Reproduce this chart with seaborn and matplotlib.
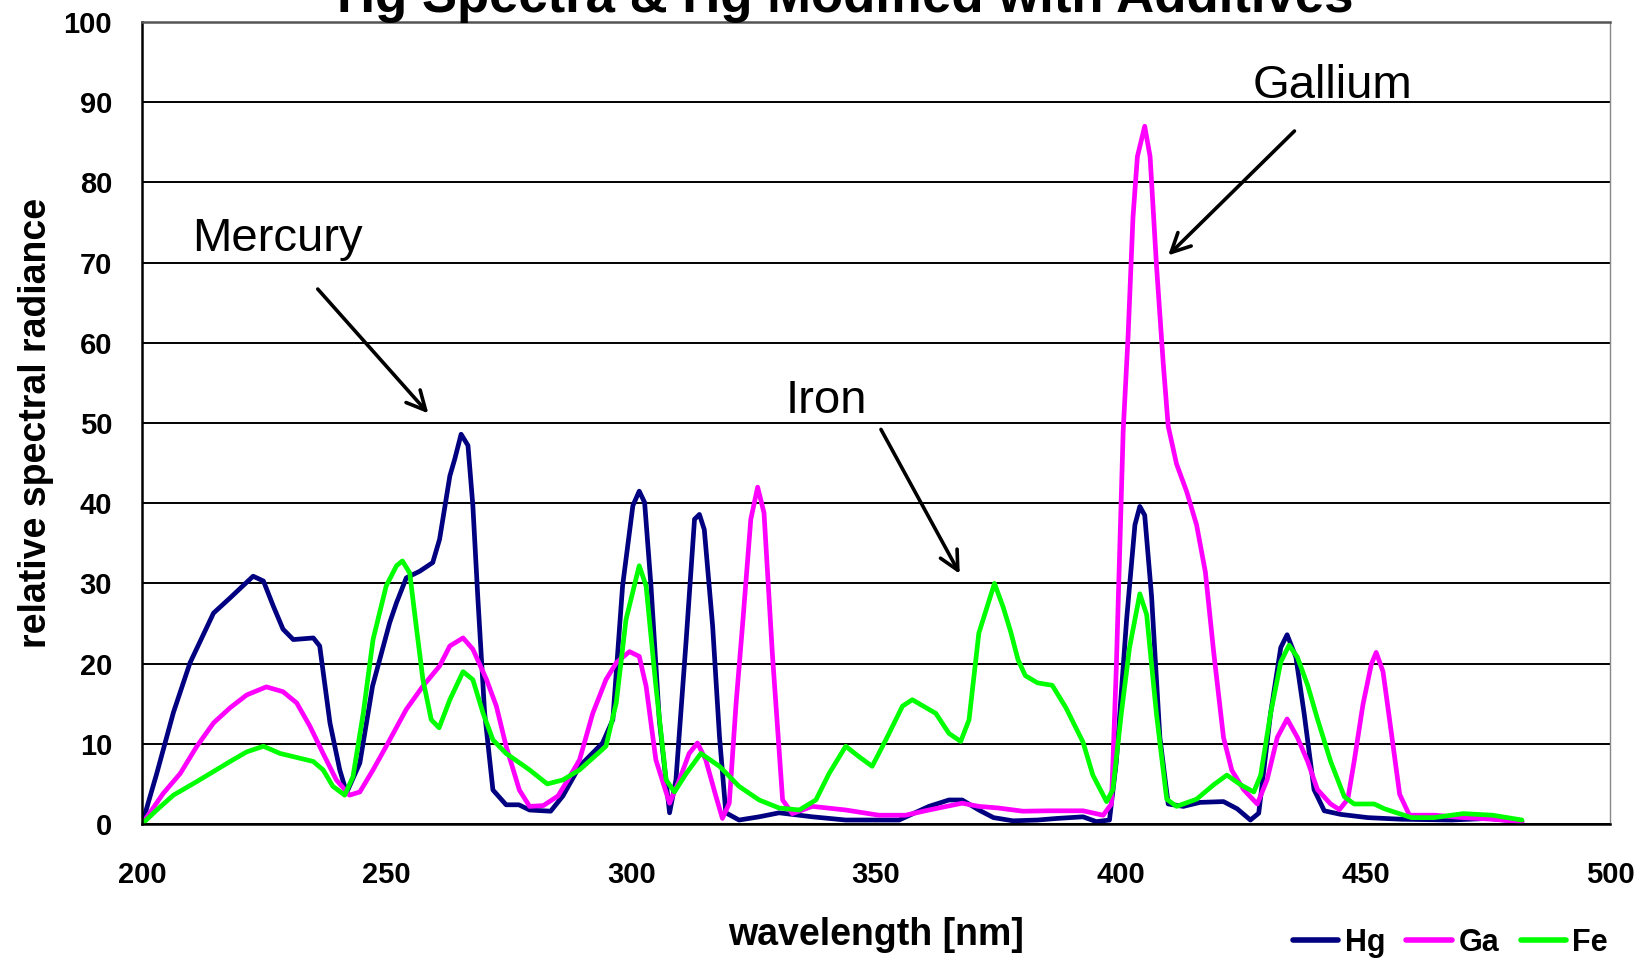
import matplotlib
matplotlib.use("Agg")
import matplotlib.pyplot as plt
import numpy as np
import pandas as pd
import seaborn as sns

# Hg lamp spectra: wavelength [nm] / relative spectral radiance per lamp fill
hg_nm = [200, 203, 206.4, 209.8, 214.6, 218, 222.7, 224.8, 226.8, 228.8, 230.9, 235, 236.3,
         238.4, 240.4, 241.8, 244.5, 247.1, 250.6, 252, 254, 256.7, 259.4, 260.8, 262.9,
         263.9, 265.2, 266.6, 267.6, 268.6, 270, 271.7, 274.4, 277, 279.2, 283.5, 286, 289.4,
         294.1, 296.2, 298.2, 300.3, 301.6, 302.7, 304, 305.7, 307.8, 309.1, 311.2, 312.9,
         313.9, 314.9, 316.6, 318, 319.3, 322, 326.1, 330.2, 337, 343.8, 354.7, 360.8, 364.9,
         367.6, 371, 374, 378, 383, 387, 392.3, 395, 397.7, 399.1, 401.2, 402.9, 403.9, 404.9,
         406.3, 408, 409.7, 412.8, 416.2, 421, 423.8, 426.5, 428.2, 430.6, 432.7, 434, 435.8,
         437.5, 439.5, 441.6, 445, 450.5, 457.3, 467.6, 475, 482]
hg_val = [0, 6.3, 13.9, 20.1, 26.3, 28.2, 30.9, 30.3, 27.2, 24.3, 23.0, 23.2, 22.2,
          12.6, 6.75, 3.9, 7.6, 17.2, 25.1, 27.6, 30.7, 31.5, 32.6, 35.5, 43.4,
          45.5, 48.6, 47.2, 39.7, 28.4, 13.9, 4.25, 2.4, 2.4, 1.75, 1.6, 3.5, 7.2,
          10.1, 13, 29.7, 39.7, 41.5, 40.1, 29.7, 13, 1.4, 5.5, 23, 38,
          38.6, 36.7, 24.7, 10.9, 1.4, 0.5, 0.9, 1.4, 0.9, 0.5, 0.5, 2.2, 3,
          3, 1.75, 0.8, 0.4, 0.5, 0.7, 0.9, 0.3, 0.5, 7.8, 25.5, 37.3, 39.6, 38.5,
          28.4, 10.8, 2.5, 2.2, 2.7, 2.8, 1.9, 0.5, 1.35, 13.7, 22, 23.6, 20.8,
          13.7, 4.3, 1.65, 1.2, 0.8, 0.6, 0.5, 0.7, 0.3]

ga_nm = [200, 204.3, 207.8, 211.2, 214.6, 218, 221.4, 225.4, 228.8, 231.6, 234.3, 237, 239.7,
         242.4, 244.5, 247.2, 249.9, 254, 257.4, 260.8, 262.9, 265.6, 267.6, 270.4, 272.4,
         274.4, 277.1, 279.2, 282, 285, 287, 289.4, 292.1, 294.8, 296.9, 299.6, 301.6, 303,
         305, 307.8, 309.8, 311.8, 313.5, 315.2, 317.3, 318.6, 320, 321.4, 322.7, 324.4,
         325.8, 327.1, 328.8, 330.9, 332.9, 337, 343.8, 350.6, 356, 360.8, 367.6, 371, 375,
         380, 385.4, 392.3, 396.4, 398.1, 399.1, 400.5, 401.5, 402.5, 403.4, 404.9, 406,
         407.3, 408.7, 409.7, 411.4, 413.5, 415.5, 417.3, 419, 421, 422.7, 425.1, 427.9,
         429.9, 432, 434, 436.1, 438.2, 440.2, 442.9, 444.7, 446.4, 447.7, 449.5, 451.2,
         452.2, 453.6, 455.3, 457, 459, 464.2, 470, 476, 482]
ga_val = [0, 3.8, 6.3, 9.7, 12.6, 14.5, 16.1, 17.1, 16.5, 15.1, 12.2, 8.8, 5.5,
          3.6, 4.0, 6.75, 9.7, 14.3, 17.2, 19.7, 22.2, 23.2, 21.8, 18, 14.7,
          9.7, 4.25, 2.2, 2.3, 3.5, 5.5, 8, 13.8, 18, 20.1, 21.5, 20.9, 17.2,
          8, 2.6, 5.5, 8.8, 10.1, 8, 3.4, 0.7, 2.6, 15.1, 24.7, 38,
          42, 38.8, 21.3, 3, 1.3, 2.2, 1.75, 1.1, 1.1, 1.75, 2.6, 2.2, 2.0,
          1.6, 1.65, 1.65, 1.1, 2.5, 19.6, 49, 60.8, 75.6, 83.2, 87, 83.2,
          69.7, 57.3, 49.6, 44.9, 41.4, 37.3, 31.4, 21.4, 10.8, 6.7, 4.3, 2.5,
          5.5, 10.8, 13.1, 10.8, 7.8, 4.3, 2.5, 1.8, 3.1, 7.8, 14.9, 19.9,
          21.4, 19, 11.4, 3.7, 1.1, 1.1, 0.8, 0.6, 0.3]

fe_nm = [200, 203, 206.4, 211.2, 218, 221.4, 224.8, 228.2, 231.6, 235, 237, 239, 241.4,
         243.1, 245.2, 247.2, 249.9, 252, 253.2, 254.7, 256.1, 257.4, 259.1, 260.7, 262.9,
         265.6, 267.6, 269.7, 271.7, 274.4, 279.2, 282.8, 286, 289.4, 294.8, 296.9, 298.9,
         301.6, 303, 305, 307.1, 308.8, 311.2, 314.2, 318, 322, 326.1, 330.2, 334.3, 337.7,
         340.4, 343.8, 346.5, 349.2, 352, 355.4, 357.4, 362.2, 364.9, 367.3, 369, 371,
         374.2, 376, 377.5, 379, 380.5, 383, 386, 388.8, 392.3, 394.3, 397.1, 398.4, 400.1,
         401.8, 403.9, 405.3, 407.3, 409.4, 411.4, 415.5, 419, 421.7, 424.5, 427.2, 428.6,
         430.6, 432.7, 434.4, 436.1, 438.2, 440.2, 442.9, 445.7, 447.7, 451.8, 453.9, 459.4,
         464, 470, 476, 482]
fe_val = [0, 1.75, 3.6, 5.3, 7.8, 9, 9.7, 8.8, 8.3, 7.8, 6.75, 4.7, 3.6,
          5.9, 13.8, 23, 29.7, 32.2, 32.8, 31.3, 24.3, 18, 13, 12, 15.5,
          19, 18, 13.8, 10.5, 8.8, 6.75, 5.0, 5.5, 6.75, 9.7, 15.1, 25.5,
          32.2, 29.7, 17.2, 5.5, 4, 6.3, 8.8, 7.2, 4.7, 3, 2, 1.75, 3,
          6.3, 9.7, 8.4, 7.2, 10.5, 14.7, 15.5, 13.8, 11.3, 10.3, 13, 23.8,
          30, 27, 24, 20.5, 18.5, 17.6, 17.3, 14.5, 10.2, 6.1, 2.8, 4.3, 13.7,
          22, 28.7, 26.1, 13.7, 3.1, 2.2, 3.1, 4.9, 6.1, 4.9, 4, 6.1,
          13.7, 20.2, 22.3, 20.8, 17.3, 13.1, 7.8, 3.4, 2.5, 2.5, 1.9, 0.8,
          0.8, 1.3, 1.1, 0.5]

series_names = ["Hg", "Ga", "Fe"]
series_colors = {"Hg": "#000080", "Ga": "#FF00FF", "Fe": "#00FF00"}

y_ticks = list(range(0, 101, 10))
x_ticks = [200, 250, 300, 350, 400, 450, 500]

frames = [
    pd.DataFrame({"nm": hg_nm, "value": hg_val, "lamp": "Hg"}),
    pd.DataFrame({"nm": ga_nm, "value": ga_val, "lamp": "Ga"}),
    pd.DataFrame({"nm": fe_nm, "value": fe_val, "lamp": "Fe"}),
]
df = pd.concat(frames, ignore_index=True)

sns.set_style("white")
plt.rcParams["font.family"] = ["Liberation Sans", "DejaVu Sans"]
plt.rcParams["text.color"] = "black"
plt.rcParams["axes.labelcolor"] = "black"
plt.rcParams["xtick.color"] = "black"
plt.rcParams["ytick.color"] = "black"

fig = plt.figure(figsize=(16.5, 9.63), dpi=100)
ax = fig.add_axes([0.0861, 0.1443, 0.8897, 0.8329])

sns.lineplot(data=df, x="nm", y="value", hue="lamp", hue_order=series_names,
             palette=series_colors, estimator=None, sort=False, linewidth=3.4,
             ax=ax, legend=True)

ax.set_xlim(200, 500)
ax.set_ylim(0, 100)
ax.set_xticks(x_ticks)
ax.set_yticks(y_ticks)
ax.tick_params(axis="x", direction="out", length=7.5, width=1.5,
               labelsize=21, pad=19)
ax.tick_params(axis="y", direction="out", length=7.5, width=1.5,
               labelsize=21, pad=14)
for lbl in ax.get_xticklabels() + ax.get_yticklabels():
    lbl.set_fontweight("bold")

# horizontal gridlines
ax.yaxis.grid(True, color="black", linewidth=1.4)
ax.xaxis.grid(False)
ax.set_axisbelow(True)

for side in ["left", "bottom"]:
    ax.spines[side].set_color("black")
    ax.spines[side].set_linewidth(1.8)
ax.spines["top"].set_color("#555555")
ax.spines["top"].set_linewidth(1.8)
ax.spines["right"].set_color("#888888")
ax.spines["right"].set_linewidth(1.0)

ax.set_xlabel("wavelength [nm]", fontsize=27, fontweight="bold", labelpad=20)
ax.set_ylabel("relative spectral radiance", fontsize=27, fontweight="bold", labelpad=7)

# annotations
arrow_kw = dict(arrowstyle="->", color="black", lw=2.6, mutation_scale=34,
                shrinkA=0, shrinkB=0)
ax.text(210.2, 71.4, "Mercury", fontsize=34, va="baseline", ha="left")
ax.annotate("", xy=(258.5, 51.2), xytext=(235.9, 66.7), arrowprops=arrow_kw)
ax.text(331.6, 51.2, "Iron", fontsize=34, va="baseline", ha="left")
ax.annotate("", xy=(367.1, 31.2), xytext=(351.0, 49.2), arrowprops=arrow_kw)
ax.text(426.9, 90.5, "Gallium", fontsize=34, va="baseline", ha="left")
ax.annotate("", xy=(409.7, 70.9), xytext=(435.5, 86.4), arrowprops=arrow_kw)

# title (sits partly above the canvas)
fig.text(845 / 1650, 1 - 12 / 963, "Hg Spectra & Hg Modified with Additives",
         fontsize=38, fontweight="bold", ha="center", va="baseline")

handles, labels = ax.get_legend_handles_labels()
leg = ax.legend(handles, labels, loc="center", bbox_to_anchor=(0.879, 0.021),
                bbox_transform=fig.transFigure, ncol=3, frameon=False,
                prop={"size": 22, "weight": "bold"},
                handlelength=1.5, handletextpad=0.2, columnspacing=0.7, borderpad=0)
for line in leg.get_lines():
    line.set_linewidth(4)

fig.savefig("out.png", dpi=100)
